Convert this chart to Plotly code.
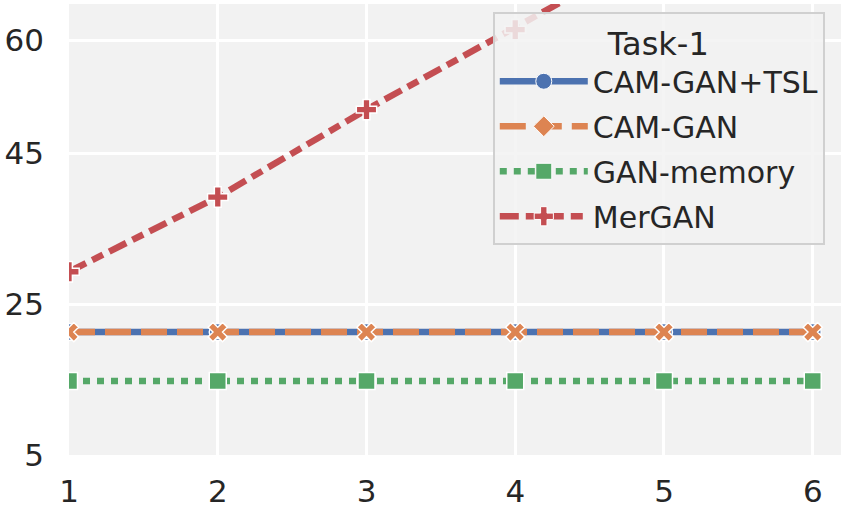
import plotly.graph_objects as go

tasks = [1, 2, 3, 4, 5, 6]
cam_gan_tsl = [21.3, 21.3, 21.3, 21.3, 21.3, 21.3]
cam_gan = [21.3, 21.3, 21.3, 21.3, 21.3, 21.3]
gan_memory = [14.8, 14.8, 14.8, 14.8, 14.8, 14.8]
mergan = [29.3, 39.2, 50.8, 61.4, 72.5, 83.5]
names = ["CAM-GAN+TSL", "CAM-GAN", "GAN-memory", "MerGAN"]

colors = ["#4C72B0", "#DD8452", "#55A868", "#C44E52"]
dashes = ["solid", "26px,10px", "7px,7px", "19px,7px,12px,7px"]
symbols = ["circle", "x", "square", "cross"]
legend_symbols = ["circle", "diamond", "square", "cross"]
series = [cam_gan_tsl, cam_gan, gan_memory, mergan]

fig = go.Figure()
for name, ys, c, d, s in zip(names, series, colors, dashes, symbols):
    fig.add_trace(go.Scatter(
        x=tasks, y=ys, mode="lines+markers", name=name, showlegend=False,
        line=dict(color=c, width=6.5, dash=d),
        marker=dict(symbol=s, size=17, color=c, line=dict(color="white", width=1.5)),
    ))
for i, (name, c, d, s) in enumerate(zip(names, colors, dashes, legend_symbols)):
    fig.add_trace(go.Scatter(
        x=[None], y=[None], mode="lines+markers", name=name, legendgroup=f"g{i}",
        line=dict(color=c, width=6.5, dash=d),
        marker=dict(symbol=s, size=18, color=c, line=dict(color="white", width=1)),
    ))

fig.update_layout(
    width=851, height=508,
    margin=dict(l=69, r=10, t=4, b=53),
    paper_bgcolor="white", plot_bgcolor="#F2F2F2",
    font=dict(family="DejaVu Sans", size=31, color="#262626"),
    legend=dict(
        x=0.979, y=0.983, xanchor="right", yanchor="top",
        bgcolor="rgba(242,242,242,0.85)", bordercolor="#D0D0D0", borderwidth=2,
        font=dict(size=30, color="#262626"),
        title=dict(text="Task-1", side="top center", font=dict(size=32, color="#262626")),
        tracegroupgap=3, itemwidth=88,
    ),
    xaxis=dict(
        range=[1, 6.19], tickvals=tasks, showgrid=True, gridcolor="white", gridwidth=2.5,
        zeroline=False, showline=False, ticks="", ticklabelstandoff=15, automargin=False,
    ),
    yaxis=dict(
        range=[5, 64.8], tickvals=[5, 25, 45, 60], showgrid=True, gridcolor="white", gridwidth=2.5,
        zeroline=False, showline=False, ticks="", ticklabelstandoff=24, automargin=False,
    ),
)
fig.write_html("out.html", config={"displayModeBar": False},
               post_script="document.body.style.margin='0';")
